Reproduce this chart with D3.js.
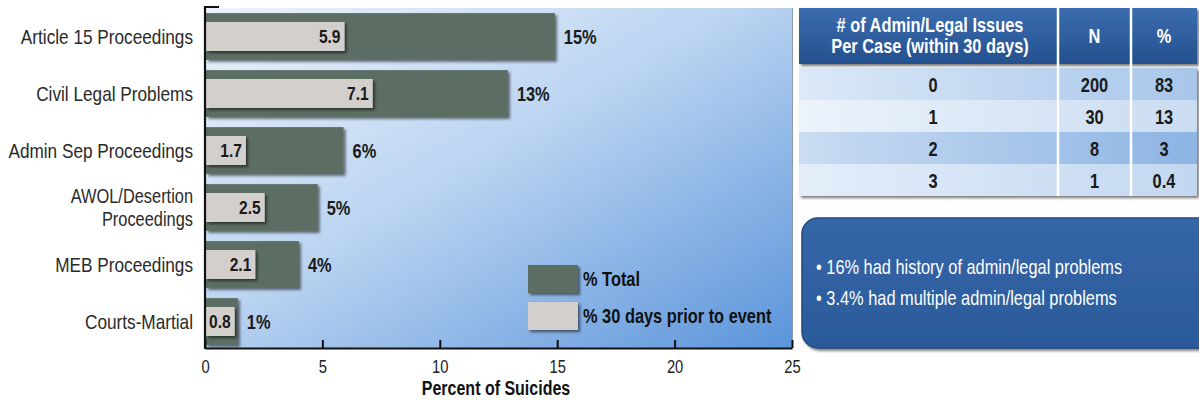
<!DOCTYPE html>
<html>
<head>
<meta charset="utf-8">
<script src="https://cdn.jsdelivr.net/npm/d3@7"></script>
<style>
  html, body { margin: 0; padding: 0; background: #ffffff; }
  svg { display: block; font-family: "Liberation Sans", Arial, sans-serif; }
</style>
</head>
<body>
<svg id="chart" width="1199" height="400"></svg>
<script>
// ---------------- data ----------------
const categories = [
  "Article 15 Proceedings",
  "Civil Legal Problems",
  "Admin Sep Proceedings",
  "AWOL/Desertion Proceedings",
  "MEB Proceedings",
  "Courts-Martial"
];
const totalPct = [14.9, 12.9, 5.9, 4.8, 4.0, 1.4];      // % Total
const prior30Pct = [5.9, 7.1, 1.7, 2.5, 2.1, 0.8];     // % 30 days prior to event
const xTicks = [0, 5, 10, 15, 20, 25];
const seriesNames = ["% Total", "% 30 days prior to event"];
const xTitle = "Percent of Suicides";

const tableHeaders = ["# of Admin/Legal Issues|Per Case (within 30 days)", "N", "%"];
const issuesPerCase = ["0", "1", "2", "3"];
const caseN = [200, 30, 8, 1];
const casePct = ["83", "13", "3", "0.4"];

const bullets = [
  "16% had history of admin/legal problems",
  "3.4% had multiple admin/legal problems"
];

// ---------------- helpers ----------------
const SX = 0.82; // horizontal condensing of the typeface
function narrow(sel) {
  sel.each(function () {
    const t = d3.select(this);
    const x = +t.attr("x") || 0, y = +t.attr("y") || 0;
    t.attr("x", 0).attr("y", 0)
      .attr("transform", `translate(${x},${y}) scale(${SX},1)`);
    t.selectAll("tspan").attr("x", 0);
  });
  return sel;
}

// ---------------- setup ----------------
const svg = d3.select("#chart");
const defs = svg.append("defs");

const bgGrad = defs.append("linearGradient").attr("id", "plotBg")
  .attr("x1", 0).attr("y1", 0).attr("x2", 1).attr("y2", 1);
bgGrad.append("stop").attr("offset", "0%").attr("stop-color", "#edf3fc");
bgGrad.append("stop").attr("offset", "45%").attr("stop-color", "#bcd5f1");
bgGrad.append("stop").attr("offset", "100%").attr("stop-color", "#5b94db");

const hdrGrad = defs.append("linearGradient").attr("id", "hdrBg")
  .attr("x1", 0).attr("y1", 0).attr("x2", 0).attr("y2", 1);
hdrGrad.append("stop").attr("offset", "0%").attr("stop-color", "#3a6cae");
hdrGrad.append("stop").attr("offset", "100%").attr("stop-color", "#24508f");

const boxGrad = defs.append("linearGradient").attr("id", "boxBg")
  .attr("x1", 0).attr("y1", 0).attr("x2", 0).attr("y2", 1);
boxGrad.append("stop").attr("offset", "0%").attr("stop-color", "#3466a7");
boxGrad.append("stop").attr("offset", "100%").attr("stop-color", "#2b5a9b");

const rowColors = [
  ["#dce9f7", "#a8c6ea"],
  ["#ecf3fb", "#cadcf2"],
  ["#c9dcf2", "#8db4e3"],
  ["#e4eefa", "#c2d7f0"]
];
rowColors.forEach((c, i) => {
  const g = defs.append("linearGradient").attr("id", "row" + i)
    .attr("x1", 0).attr("y1", 0).attr("x2", 1).attr("y2", 0);
  g.append("stop").attr("offset", "0%").attr("stop-color", c[0]);
  g.append("stop").attr("offset", "100%").attr("stop-color", c[1]);
});

const shadow = defs.append("filter").attr("id", "shadow")
  .attr("x", "-10%").attr("y", "-20%").attr("width", "130%").attr("height", "160%");
shadow.append("feGaussianBlur").attr("in", "SourceAlpha").attr("stdDeviation", 1.8).attr("result", "b");
shadow.append("feOffset").attr("in", "b").attr("dx", 2).attr("dy", 2).attr("result", "o");
shadow.append("feComponentTransfer").attr("in", "o").attr("result", "s")
  .append("feFuncA").attr("type", "linear").attr("slope", 0.55);
const m = shadow.append("feMerge");
m.append("feMergeNode").attr("in", "s");
m.append("feMergeNode").attr("in", "SourceGraphic");

// ---------------- chart ----------------
const plot = { left: 205, right: 792, top: 8, bottom: 348 };

const x = d3.scaleLinear().domain([0, 25]).range([plot.left, plot.right]);
const y = d3.scaleBand().domain(categories).range([plot.top, plot.bottom + 2])
  .paddingInner(0.18).paddingOuter(0.09);

svg.append("rect")
  .attr("x", plot.left).attr("y", plot.top)
  .attr("width", plot.right - plot.left).attr("height", plot.bottom - plot.top)
  .attr("fill", "url(#plotBg)");
svg.append("line")
  .attr("x1", plot.right + 0.5).attr("x2", plot.right + 0.5)
  .attr("y1", plot.top).attr("y2", plot.bottom)
  .attr("stroke", "#8a9bb0").attr("stroke-width", 1);

const rows = categories.map((c, i) => ({ cat: c, total: totalPct[i], prior: prior30Pct[i] }));

// total bars
svg.append("g").selectAll("rect").data(rows).join("rect")
  .attr("x", x(0) + 1)
  .attr("y", d => y(d.cat))
  .attr("width", d => x(d.total) - x(0) - 1)
  .attr("height", y.bandwidth())
  .attr("fill", "#5b6e64")
  .attr("filter", "url(#shadow)");

// total labels
narrow(svg.append("g").selectAll("text").data(rows).join("text")
  .attr("x", d => x(d.total) + 9)
  .attr("y", d => y(d.cat) + y.bandwidth() / 2)
  .attr("dy", "0.36em")
  .attr("font-size", 20).attr("font-weight", "bold").attr("fill", "#1a1a1a")
  .text(d => d3.format(".0f")(d.total) + "%"));

// prior bars + labels
const innerH = 29;
const priorG = svg.append("g");
const priorLabels = svg.append("g").selectAll("text").data(rows).join("text")
  .attr("y", d => y(d.cat) + y.bandwidth() / 2)
  .attr("dy", "0.36em")
  .attr("text-anchor", "end")
  .attr("font-size", 19).attr("font-weight", "bold").attr("fill", "#1a1a1a")
  .text(d => d3.format(".1f")(d.prior));
const widths = [];
priorLabels.each(function (d, i) {
  const tw = this.getComputedTextLength() * SX;
  widths[i] = Math.max(x(d.prior) - x(0), tw + 7);
});
priorG.selectAll("rect").data(rows).join("rect")
  .attr("x", x(0) + 1)
  .attr("y", d => y(d.cat) + y.bandwidth() / 2 - innerH / 2)
  .attr("width", (d, i) => widths[i])
  .attr("height", innerH)
  .attr("fill", "#d3cfcd")
  .attr("filter", "url(#shadow)");
priorLabels.attr("x", (d, i) => x(0) + widths[i] - 3).raise();
narrow(priorLabels);

// axes
const xAxis = d3.axisBottom(x).tickValues(xTicks).tickSizeInner(-8).tickSizeOuter(0).tickPadding(12);
const gx = svg.append("g").attr("transform", `translate(0,${plot.bottom})`).call(xAxis);
gx.select(".domain").attr("stroke", "#111").attr("stroke-width", 2.2);
gx.selectAll(".tick line").attr("stroke", "#111").attr("stroke-width", 2);
gx.selectAll(".tick text").attr("font-size", 18).attr("fill", "#222")
  .attr("font-family", "\"Liberation Sans\", Arial, sans-serif");
narrow(gx.selectAll(".tick text"));

svg.append("path")
  .attr("d", `M${plot.left + 14},${plot.top - 1}H${plot.left}V${plot.bottom + 1}`)
  .attr("fill", "none").attr("stroke", "#111").attr("stroke-width", 2.2);

narrow(svg.append("text")
  .attr("x", 496).attr("y", 395)
  .attr("text-anchor", "middle")
  .attr("font-size", 19.5).attr("font-weight", "bold").attr("fill", "#111")
  .text(xTitle));

// category labels
const catG = svg.append("g").selectAll("text").data(categories).join("text")
  .attr("x", 193)
  .attr("y", d => y(d) + y.bandwidth() / 2)
  .attr("text-anchor", "end")
  .attr("font-size", 21).attr("fill", "#2a2a2a");
catG.each(function (d) {
  const parts = d === "AWOL/Desertion Proceedings" ? ["AWOL/Desertion", "Proceedings"] : [d];
  const t = d3.select(this);
  parts.forEach((p, k) => {
    t.append("tspan").attr("x", 193)
      .attr("dy", k === 0 ? (parts.length === 1 ? "0.36em" : "-0.24em") : "1.16em")
      .attr("font-size", parts.length === 1 ? 21 : 20)
      .text(p);
  });
});
narrow(catG);

// legend
const legendColors = ["#5b6e64", "#d3cfcd"];
const lg = svg.append("g").selectAll("g").data(seriesNames).join("g")
  .attr("transform", (d, i) => `translate(528,${265 + i * 37})`);
lg.append("rect").attr("width", 50).attr("height", 28)
  .attr("fill", (d, i) => legendColors[i]).attr("filter", "url(#shadow)");
narrow(lg.append("text").attr("x", 55).attr("y", 14).attr("dy", "0.36em")
  .attr("font-size", 20).attr("font-weight", "bold").attr("fill", "#111")
  .text(d => d));

// ---------------- table ----------------
const tbl = { left: 799, right: 1197, top: 8, hdrBottom: 64, rowTop: 68, rowH: 32 };
const colX = [tbl.left, 1058, 1131, tbl.right];

svg.append("rect")
  .attr("x", tbl.left).attr("y", tbl.rowTop)
  .attr("width", tbl.right - tbl.left).attr("height", tbl.rowH * issuesPerCase.length)
  .attr("fill", "#cfdff3").attr("filter", "url(#shadow)");
svg.append("g").selectAll("rect").data(issuesPerCase).join("rect")
  .attr("x", tbl.left).attr("y", (d, i) => tbl.rowTop + i * tbl.rowH)
  .attr("width", tbl.right - tbl.left).attr("height", tbl.rowH)
  .attr("fill", (d, i) => `url(#row${i})`);

svg.append("rect")
  .attr("x", tbl.left).attr("y", tbl.top)
  .attr("width", tbl.right - tbl.left).attr("height", tbl.hdrBottom - tbl.top)
  .attr("fill", "url(#hdrBg)").attr("filter", "url(#shadow)");

// separators
svg.append("g").selectAll("line").data([colX[1], colX[2]]).join("line")
  .attr("x1", d => d).attr("x2", d => d)
  .attr("y1", tbl.top).attr("y2", tbl.rowTop + tbl.rowH * issuesPerCase.length)
  .attr("stroke", "#ffffff").attr("stroke-width", 2.5);

// header text
tableHeaders.forEach((h, c) => {
  const cx = c === 0 ? 930 : (colX[c] + colX[c + 1]) / 2;
  const parts = h.split("|");
  const t = svg.append("text").attr("text-anchor", "middle")
    .attr("font-size", 20).attr("font-weight", "bold").attr("fill", "#ffffff")
    .attr("x", cx)
    .attr("y", (tbl.top + tbl.hdrBottom) / 2);
  parts.forEach((p, k) => {
    t.append("tspan")
      .attr("dy", k === 0 ? (parts.length === 1 ? "0.36em" : "-0.2em") : "1.05em")
      .text(p);
  });
  narrow(t);
});

// cell text
const tableRows = issuesPerCase.map((v, i) => [v, String(caseN[i]), casePct[i]]);
tableRows.forEach((r, i) => {
  r.forEach((v, c) => {
    const cx = c === 0 ? 933 : (colX[c] + colX[c + 1]) / 2;
    narrow(svg.append("text").attr("x", cx)
      .attr("y", tbl.rowTop + i * tbl.rowH + tbl.rowH / 2 + 1)
      .attr("dy", "0.36em").attr("text-anchor", "middle")
      .attr("font-size", 20).attr("font-weight", "bold").attr("fill", "#1a1a1a")
      .text(v));
  });
});

// ---------------- note box ----------------
svg.append("rect")
  .attr("x", 802).attr("y", 218).attr("width", 420).attr("height", 130)
  .attr("rx", 16).attr("ry", 16)
  .attr("fill", "url(#boxBg)").attr("stroke", "#23497f").attr("stroke-width", 1.5)
  .attr("filter", "url(#shadow)");
narrow(svg.append("g").selectAll("text").data(bullets).join("text")
  .attr("x", 816).attr("y", (d, i) => 267 + i * 31).attr("dy", "0.36em")
  .attr("font-size", 20).attr("fill", "#ffffff")
  .text(d => "\u2022 " + d));
</script>
</body>
</html>
